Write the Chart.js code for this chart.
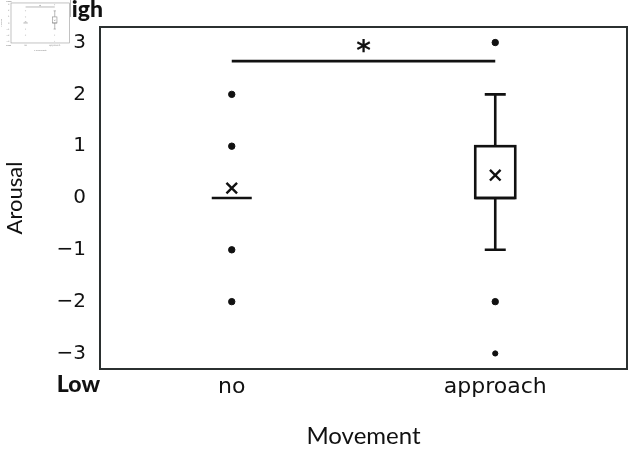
<!DOCTYPE html>
<html><head><meta charset="utf-8">
<script src="https://cdn.jsdelivr.net/npm/chart.js@4.4.0/dist/chart.umd.min.js"></script>
<style>
html,body{margin:0;padding:0;background:#fff;}
#wrap{position:relative;width:633px;height:451px;overflow:hidden;}
#main{position:absolute;left:0;top:0;}
#thumb{position:absolute;left:0;top:0;background:#fff;}
</style></head><body>
<div id="wrap">
<canvas id="main" width="633" height="451"></canvas>
<canvas id="thumb" width="70" height="52"></canvas>
</div>
<script>
// ---- data ----
const categories = ['no', 'approach'];
const q1Values = [0, 0];
const medianValues = [0, 0];
const q3Values = [0, 1];
const whiskerLowValues = [0, -1];
const whiskerHighValues = [0, 2];
const meanValues = [0.19, 0.44];
const outliersNo = [2, 1, -1, -2];
const outliersApproach = [3, -2, -3];
const yTickValues = [-3, -2, -1, 0, 1, 2, 3];
const sigPair = [0, 1];
const sigLevel = 2.64;
const sigStarLevel = 2.9;
const sigText = '*';
const highLabel = 'High';
const lowLabel = 'Low';
const xTitle = 'Movement';
const yTitle = 'Arousal';

const boxPlugin = {
  id: 'boxplot',
  beforeDatasetsDraw(chart, args, o) {
    const {ctx, chartArea: a, scales: {x, y}} = chart;
    const s = o.s;
    ctx.save();
    ctx.lineWidth = Math.max(2 * s, 0.6);
    ctx.strokeStyle = o.frame;
    ctx.strokeRect(a.left, a.top, a.right - a.left, a.bottom - a.top);
    ctx.strokeStyle = o.color;
    ctx.lineWidth = Math.max(2.6 * s, 0.6);
    categories.forEach((c, i) => {
      const cx = x.getPixelForValue(i);
      const hw = 20 * s, cw = 10.5 * s;
      const yq1 = y.getPixelForValue(q1Values[i]);
      const yq3 = y.getPixelForValue(q3Values[i]);
      const ymed = y.getPixelForValue(medianValues[i]);
      const ylo = y.getPixelForValue(whiskerLowValues[i]);
      const yhi = y.getPixelForValue(whiskerHighValues[i]);
      ctx.beginPath();
      if (whiskerHighValues[i] > q3Values[i]) {
        ctx.moveTo(cx, yq3); ctx.lineTo(cx, yhi);
        ctx.moveTo(cx - cw, yhi); ctx.lineTo(cx + cw, yhi);
      }
      if (whiskerLowValues[i] < q1Values[i]) {
        ctx.moveTo(cx, yq1); ctx.lineTo(cx, ylo);
        ctx.moveTo(cx - cw, ylo); ctx.lineTo(cx + cw, ylo);
      }
      ctx.stroke();
      if (q3Values[i] > q1Values[i]) {
        ctx.fillStyle = '#fff';
        ctx.fillRect(cx - hw, yq3, 2 * hw, yq1 - yq3);
        ctx.strokeRect(cx - hw, yq3, 2 * hw, yq1 - yq3);
      }
      ctx.beginPath();
      ctx.moveTo(cx - hw, ymed); ctx.lineTo(cx + hw, ymed);
      ctx.stroke();
    });
    ctx.restore();
  },
  afterDraw(chart, args, o) {
    const {ctx, chartArea: a, scales: {x, y}} = chart;
    const s = o.s;
    ctx.save();
    ctx.fillStyle = o.color;
    ctx.font = 'bold ' + (28 * s) + 'px "DejaVu Sans"';
    ctx.textAlign = 'center';
    ctx.textBaseline = 'middle';
    const mx = (x.getPixelForValue(sigPair[0]) + x.getPixelForValue(sigPair[1])) / 2;
    ctx.fillText(sigText, mx, y.getPixelForValue(sigStarLevel) + 5 * s);
    ctx.font = '900 ' + (23 * s) + 'px Lato';
    ctx.textAlign = 'right';
    ctx.textBaseline = 'alphabetic';
    ctx.fillText(highLabel, a.left + 3 * s, a.top - 10 * s);
    ctx.fillText(lowLabel, a.left, a.bottom + 23 * s);
    ctx.restore();
  }
};

function makeChart(canvas, s, color, frame) {
  const outlierData = outliersNo.map(v => ({x: 0, y: v}))
    .concat(outliersApproach.map(v => ({x: 1, y: v})));
  const meanData = meanValues.map((v, i) => ({x: i, y: v}));
  const sigData = sigPair.map(v => ({x: v, y: sigLevel}));
  const yTickFont = {family: '"DejaVu Sans"', size: 20 * s};
  const xTickFont = {family: '"DejaVu Sans"', size: 22 * s};
  const xTitleFont = {family: 'Lato', size: 24 * s};
  const yTitleFont = {family: 'Lato', size: 22 * s};
  return new Chart(canvas, {
    type: 'scatter',
    data: {
      datasets: [
        {type: 'line', data: sigData, borderColor: color, borderWidth: Math.max(2.8 * s, 0.6),
         pointRadius: 0, fill: false},
        {data: outlierData, pointStyle: 'circle', backgroundColor: color, borderColor: color,
         pointRadius: c => (c.dataIndex === outlierData.length - 1 ? 2.6 : 3.2) * s,
         borderWidth: s},
        {data: meanData, pointStyle: 'crossRot', borderColor: color,
         pointRadius: 7.5 * s, borderWidth: Math.max(2.4 * s, 0.5)}
      ]
    },
    options: {
      responsive: false, animation: false, devicePixelRatio: 1,
      layout: {autoPadding: false, padding: {left: 0, right: 6 * s, top: 27 * s, bottom: 0}},
      plugins: {legend: {display: false}, tooltip: {enabled: false},
        boxplot: {s: s, color: color, frame: frame}},
      scales: {
        x: {type: 'linear', min: -0.5, max: 1.5,
          afterBuildTicks: sc => { sc.ticks = categories.map((c, i) => ({value: i})); },
          afterFit: sc => { sc.height = 82 * s; sc.paddingLeft = 0; sc.paddingRight = 0; },
          ticks: {callback: v => categories[v], font: xTickFont, color: color, padding: 5 * s,
            maxRotation: 0, autoSkip: false},
          grid: {display: false, drawTicks: false}, border: {display: false},
          title: {display: true, text: xTitle, font: xTitleFont, color: color,
            padding: {top: 0, bottom: 0}}},
        y: {type: 'linear', min: -3.3, max: 3.3,
          afterBuildTicks: sc => { sc.ticks = yTickValues.map(v => ({value: v})); },
          afterFit: sc => { sc.width = 100 * s; sc.paddingTop = 0; sc.paddingBottom = 0; },
          ticks: {callback: v => (v < 0 ? '\u2212' + Math.abs(v) : String(v)), font: yTickFont,
            color: color, padding: 14 * s, autoSkip: false},
          grid: {display: false, drawTicks: false}, border: {display: false},
          title: {display: true, text: yTitle, font: yTitleFont, color: color,
            padding: {top: 2 * s, bottom: 0}}}
      }
    },
    plugins: [boxPlugin]
  });
}

makeChart(document.getElementById('main'), 1, '#111', '#2b3030');
makeChart(document.getElementById('thumb'), 0.11, '#8a8a8a', '#9a9a9a');
</script>
</body></html>
